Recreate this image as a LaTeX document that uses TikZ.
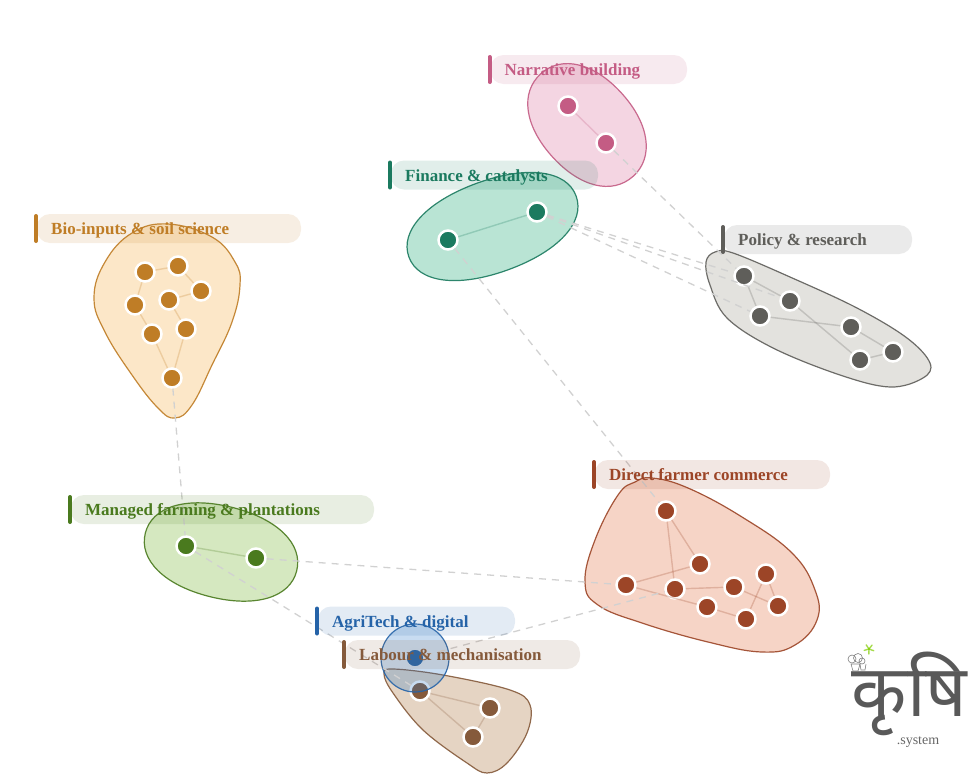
\documentclass[tikz,border=0pt]{standalone}
\usepackage{fontspec}
\setmainfont{Liberation Serif}
\newfontfamily\devfont[Script=Devanagari]{Noto Sans}
\definecolor{cbio}{HTML}{BF7D26}
\definecolor{cpol}{HTML}{5F5E5A}
\definecolor{cdir}{HTML}{9C4527}
\definecolor{cfin}{HTML}{1B7A5F}
\definecolor{cnar}{HTML}{C45C84}
\definecolor{cman}{HTML}{4A7A1E}
\definecolor{cagr}{HTML}{2563A8}
\definecolor{clab}{HTML}{855A3B}
\definecolor{fbio}{HTML}{FCE6C5}
\definecolor{fpol}{HTML}{E1E0DC}
\definecolor{fdir}{HTML}{F6D2C3}
\definecolor{ffin}{HTML}{B5E3D2}
\definecolor{fnar}{HTML}{F3D3E0}
\definecolor{fman}{HTML}{D3E7BD}
\definecolor{fagr}{HTML}{2373C6}
\definecolor{flab}{HTML}{E4D2C0}
\tikzset{
  hull/.style n args={2}{draw=#1,line width=1.2pt,draw opacity=.9,fill=#2,fill opacity=.95},
  member/.style={circle,fill=#1,draw=white,line width=2.5pt,minimum size=19pt,inner sep=0pt},
  tie/.style={draw=#1,line width=1.4pt,opacity=.25},
  bridge/.style={draw=black!18,line width=1.3pt,dash pattern=on 7pt off 6pt},
  title/.style={text=#1,font=\bfseries\fontsize{17}{19}\selectfont,anchor=base west,inner sep=0pt},
}
\newcommand{\commlabel}[6]{%
  \fill[#2,opacity=.13,rounded corners=13pt] (#3+1,#5-14.5) rectangle (#4,#5+14.5);
  \draw[#2,line width=4pt,line cap=round] (#3,#5-12.5) -- (#3,#5+12.5);
  \node[title=#2] (#1) at (#3+15,#5+6) {#6};
}
% colour, fill, centre x, centre y, rotation, half axes a, b
\newcommand{\blobshape}[7]{%
  \draw[hull={#1}{#2},shift={(#3,#4)},rotate=#5]
    (#6,0) .. controls (#6,.6*#7) and (.6*#6,#7) .. (0,#7)
    .. controls (-.6*#6,#7) and (-#6,.6*#7) .. (-#6,0)
    .. controls (-#6,-.6*#7) and (-.6*#6,-#7) .. (0,-#7)
    .. controls (.6*#6,-#7) and (#6,-.6*#7) .. (#6,0) -- cycle;
}
\begin{document}
\begin{tikzpicture}[x=1pt,y=-1pt]
\useasboundingbox (0,0) rectangle (975,774);
% hulls
\draw[hull={cbio}{fbio}] plot[smooth cycle,tension=.7] coordinates {(168,224)(212,237)(235,262)(240,285)(232,322)(212,365)(192,405)(175,418)(158,408)(132,375)(105,332)(94,298)(105,262)(132,233)};
\draw[hull={cpol}{fpol}] plot[smooth cycle,tension=.6] coordinates {(715,252)(733,253)(790,277)(857,308)(907,338)(930,363)(923,378)(890,387)(840,375)(773,348)(727,318)(710,285)(706,262)};
\draw[hull={cdir}{fdir}] plot[smooth cycle,tension=.7] coordinates {(652,478)(688,488)(742,517)(792,553)(815,590)(817,620)(795,645)(762,652)(708,642)(642,623)(598,605)(585,582)(595,540)(618,495)(635,482)};
\draw[hull={clab}{flab}] plot[smooth cycle,tension=.6] coordinates {(384,674)(393,669)(443,675)(510,690)(530,705)(527,733)(507,763)(487,773)(467,763)(423,730)(393,693)};
\blobshape{cnar}{fnar}{587}{125}{-48}{69}{47}
\blobshape{cfin}{ffin}{492.5}{226.5}{20}{89}{46}
\blobshape{cman}{fman}{221}{552}{-14}{78}{46}
% members
\foreach \n/\x/\y in {a/145/272,b/178/266,c/201/291,d/135/305,e/169/300,f/152/334,g/186/329,h/172/378}
  \node[member=cbio] (bio\n) at (\x,\y) {};
\foreach \n/\x/\y in {a/744/276,b/790/301,c/760/316,d/851/327,e/860/360,f/893/352}
  \node[member=cpol] (pol\n) at (\x,\y) {};
\foreach \n/\x/\y in {a/666/511,b/700/564,c/626/585,d/675/589,e/707/607,f/734/587,g/766/574,h/778/606,i/746/619}
  \node[member=cdir] (dir\n) at (\x,\y) {};
\foreach \n/\x/\y in {a/420/691,b/490/708,c/473/737}
  \node[member=clab] (lab\n) at (\x,\y) {};
\node[member=cfin] (fina) at (448,240) {};
\node[member=cfin] (finb) at (537,212) {};
\node[member=cnar] (nara) at (568,106) {};
\node[member=cnar] (narb) at (606,143) {};
\node[member=cman] (mana) at (186,546) {};
\node[member=cman] (manb) at (256,558) {};
\node[member=cagr] (agra) at (415,658) {};
\draw[draw=cagr,line width=1.2pt,draw opacity=.9,fill=fagr,fill opacity=.25] (415,658) circle[radius=34];
% internal ties
\foreach \p/\q in {a/b,b/c,a/d,c/e,d/f,e/g,f/h,g/h} \draw[tie=cbio] (bio\p) -- (bio\q);
\foreach \p/\q in {a/b,a/c,c/d,b/e,d/f,e/f} \draw[tie=cpol] (pol\p) -- (pol\q);
\foreach \p/\q in {a/b,a/d,b/c,c/e,d/f,f/h,e/i,i/g,g/h} \draw[tie=cdir] (dir\p) -- (dir\q);
\foreach \p/\q in {a/b,a/c,b/c} \draw[tie=clab] (lab\p) -- (lab\q);
\draw[tie=cfin] (fina) -- (finb);
\draw[tie=cnar] (nara) -- (narb);
\draw[tie=cman] (mana) -- (manb);
% bridges
\draw[bridge] (narb) -- (pola);
\draw[bridge] (finb) -- (pola);
\draw[bridge] (finb) -- (polb);
\draw[bridge] (finb) -- (polc);
\draw[bridge] (fina) -- (dira);
\draw[bridge] (bioh) -- (mana);
\draw[bridge] (mana) -- (laba);
\draw[bridge] (manb) -- (dirc);
\draw[bridge] (agra) -- (dird);
% labels
\commlabel{tnar}{cnar}{489.5}{687}{69.5}{Narrative building}
\commlabel{tfin}{cfin}{390}{598}{175}{Finance \& catalysts}
\commlabel{tbio}{cbio}{36}{301}{228.5}{Bio-inputs \& soil science}
\commlabel{tpol}{cpol}{723}{912}{239.5}{Policy \& research}
\commlabel{tdir}{cdir}{594}{830}{474.5}{Direct farmer commerce}
\commlabel{tman}{cman}{70}{374}{509.5}{Managed farming \& plantations}
\commlabel{tagr}{cagr}{317}{515}{621}{AgriTech \& digital}
\commlabel{tlab}{clab}{344}{580}{654.5}{Labour \& mechanisation}
% logo
\node[text=black!65,font=\devfont\bfseries\fontsize{72}{75}\selectfont,inner sep=0pt] (logo) at (909.5,694) {कृषि};
\node[text=black!60,font=\fontsize{14}{16}\selectfont,inner sep=0pt] (sys) at (918,742) {.system};
\begin{scope}[draw=black!50,line width=.6pt,fill=white]
\draw (851,664) -- (853,671) -- (858,671) -- (860,664) -- cycle;
\draw (860,664) -- (861,670) -- (865,670) -- (866,664);
\draw (852,659) circle[radius=4];
\draw (858,658) circle[radius=4.5];
\draw (862,661) circle[radius=3];
\end{scope}
\foreach \a in {20,92,164,236,308}
  \draw[draw=green!60!black!50!yellow,line width=1.4pt,opacity=.7,line cap=round] (869,649) -- ++(\a:5);
\end{tikzpicture}
\end{document}
